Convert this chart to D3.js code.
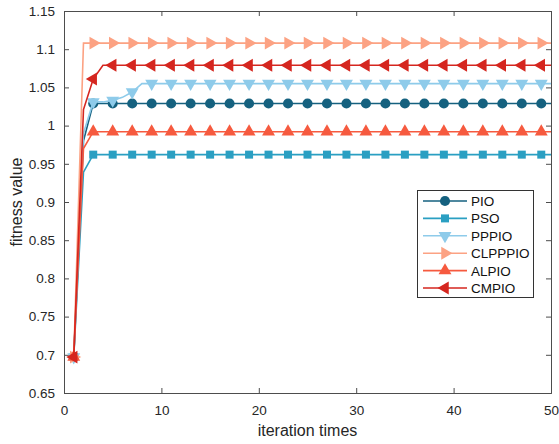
<!DOCTYPE html>
<html><head><meta charset="utf-8">
<script src="https://cdn.jsdelivr.net/npm/d3@7"></script>
<style>body{margin:0;background:#fff}svg{display:block;font-family:"Liberation Sans",Arial,sans-serif}</style>
</head><body><svg id="c" width="559" height="444"></svg>
<script>
const names = ["PIO","PSO","PPPIO","CLPPPIO","ALPIO","CMPIO"];
const colors = ["#15617f","#2a9fc2","#8ecbea","#fca283","#f65a3f","#d5261f"];
const symbols = ["circle","square","down","right","up","left"];
// values for the first iterations; afterwards the series stay at the last value
const pioHead = [0.697,0.98,1.029];
const psoHead = [0.697,0.939,0.962];
const pppioHead = [0.697,0.99,1.031,1.031,1.033,1.037,1.044,1.055];
const clpppioHead = [0.697,1.108];
const alpioHead = [0.697,0.97,0.992];
const cmpioHead = [0.697,1.021,1.061,1.079];
const nIter = 50;
const xTicks = [0,10,20,30,40,50];
const yTicks = [0.65,0.7,0.75,0.8,0.85,0.9,0.95,1,1.05,1.1,1.15];

function expand(head){const a=[];for(let i=0;i<nIter;i++)a.push(head[Math.min(i,head.length-1)]);return a;}
const series = [pioHead,psoHead,pppioHead,clpppioHead,alpioHead,cmpioHead].map(expand);

const svg = d3.select("#c");
const L=64,R=551,T=11,B=393;
const x = d3.scaleLinear().domain([0,50]).range([L,R]);
const y = d3.scaleLinear().domain([0.65,1.15]).range([B,T]);
const axisCol="#4d4d4d";

// axes
svg.append("g").attr("transform",`translate(0,${B})`)
  .call(d3.axisBottom(x).tickValues(xTicks).tickSize(-5).tickPadding(12).tickFormat(d3.format("d")));
svg.append("g").attr("transform",`translate(${L},0)`)
  .call(d3.axisLeft(y).tickValues(yTicks).tickSize(-5).tickPadding(9).tickFormat(d=>d3.format("")(+d.toFixed(2))));
svg.append("g").attr("transform",`translate(0,${T})`)
  .call(d3.axisTop(x).tickValues(xTicks).tickSize(-5).tickFormat(""));
svg.append("g").attr("transform",`translate(${R},0)`)
  .call(d3.axisRight(y).tickValues(yTicks).tickSize(-5).tickFormat(""));
svg.selectAll(".domain").attr("stroke",axisCol).attr("stroke-width",1);
svg.selectAll(".tick line").attr("stroke",axisCol);
svg.selectAll(".tick text").attr("fill","#262626").style("font-size","13.5px");

function markerPath(s){
  if(s==="circle") return d3.symbol(d3.symbolCircle,80)();
  if(s==="square") return d3.symbol(d3.symbolSquare,64)();
  return d3.symbol(d3.symbolTriangle,72)();
}
function markerRot(s){return {down:180,right:90,left:-90,up:0}[s]||0;}

const line = d3.line().x((d,i)=>x(i+1)).y(d=>y(d));
series.forEach((vals,k)=>{
  const g = svg.append("g");
  g.append("path").attr("d",line(vals)).attr("fill","none").attr("stroke",colors[k]).attr("stroke-width",1.6);
  const pts = vals.map((v,i)=>({i,v})).filter(d=>d.i%2===0);
  g.selectAll("path.m").data(pts).join("path").attr("class","m")
    .attr("d",markerPath(symbols[k]))
    .attr("transform",d=>`translate(${x(d.i+1)},${y(d.v)}) rotate(${markerRot(symbols[k])})`)
    .attr("fill",colors[k]);
});

// labels
svg.append("text").attr("x",(L+R)/2).attr("y",436).attr("text-anchor","middle")
  .style("font-size","16px").attr("fill","#262626").text("iteration times");
svg.append("text").attr("transform",`translate(22,${(T+B)/2}) rotate(-90)`).attr("text-anchor","middle")
  .style("font-size","16px").attr("fill","#262626").text("fitness value");

// legend
const lg = svg.append("g");
lg.append("rect").attr("x",417.5).attr("y",190.5).attr("width",116).attr("height",107)
  .attr("fill","#fff").attr("stroke","#333").attr("stroke-width",1);
names.forEach((n,k)=>{
  const yy = 201+k*17.4;
  lg.append("line").attr("x1",423).attr("x2",467).attr("y1",yy).attr("y2",yy).attr("stroke",colors[k]).attr("stroke-width",1.6);
  lg.append("path").attr("d",markerPath(symbols[k])).attr("transform",`translate(445,${yy}) rotate(${markerRot(symbols[k])})`).attr("fill",colors[k]);
  lg.append("text").attr("x",471).attr("y",yy+5).style("font-size","13.5px").attr("fill","#111").text(n);
});
</script></body></html>
